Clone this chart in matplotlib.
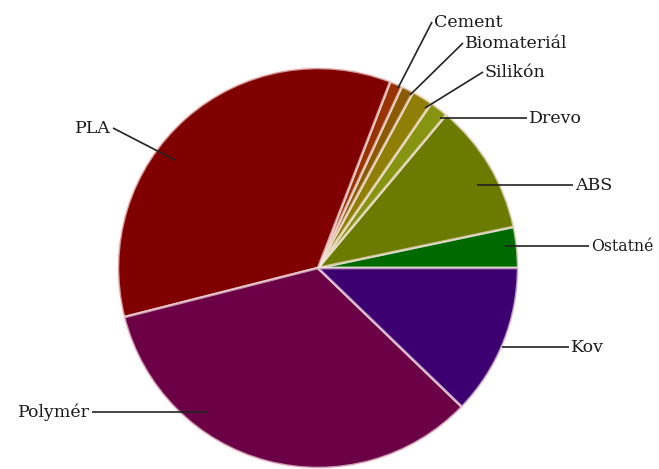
import matplotlib.pyplot as plt

# slice data, counterclockwise from 3 o'clock
labels = ['Ostatné', 'ABS', 'Drevo', 'Silikón', 'Biomateriál', 'Cement', 'PLA', 'Polymér', 'Kov']
shares = [3.3, 10.6, 1.5, 1.7, 1.0, 1.0, 34.8, 33.8, 12.2]
colors = ['#006a00', '#6b7a00', '#869412', '#8f7f06', '#8a5a04', '#983306', '#800000', '#6b0046', '#3d0070']

# leader line start (pixel, from top-left) and label anchor for each slice
leaders = {
    'Ostatné':     ((505, 246), (589, 246), 'left'),
    'ABS':         ((477, 185), (573, 185), 'left'),
    'Drevo':       ((440, 118), (527, 118), 'left'),
    'Silikón':     ((425, 108), (483, 72), 'left'),
    'Biomateriál': ((410, 95), (463, 43), 'left'),
    'Cement':      ((398, 88), (432, 22), 'left'),
    'PLA':         ((175, 160), (113, 128), 'right'),
    'Polymér':     ((208, 412), (92, 412), 'right'),
    'Kov':         ((502, 347), (569, 347), 'left'),
}

W, H = 659, 469
fig = plt.figure(figsize=(W / 100, H / 100), dpi=100)
ax = fig.add_axes([0, 0, 1, 1])

ax.pie(shares, colors=colors, startangle=0, counterclock=True,
       center=(318, H - 268), radius=200, frame=True,
       wedgeprops=dict(edgecolor=(1, 0.92, 0.92, 0.65), linewidth=1.9))
ax.set_xlim(0, W)
ax.set_ylim(0, H)
ax.set_aspect('equal')
ax.axis('off')

for name in labels:
    (x0, y0), (x1, y1), ha = leaders[name]
    ax.plot([x0, x1], [H - y0, H - y1], color='#222222', lw=1.2, solid_capstyle='butt')
    tx = x1 + 2 if ha == 'left' else x1 - 2
    size = 11.3 if name == 'Ostatné' else 12.5
    ax.text(tx, H - y1, name, ha=ha, va='center', fontsize=size,
            family='DejaVu Serif', color='#1a1a1a')

fig.savefig('out.png', dpi=100)
